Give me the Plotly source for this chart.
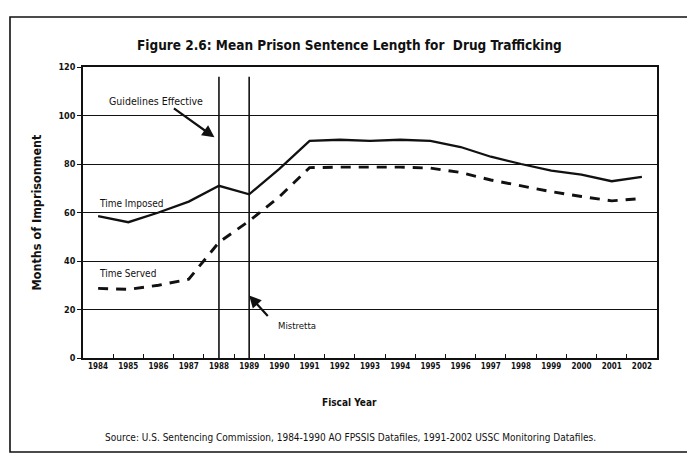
import plotly.graph_objects as go

# Fiscal years on the category axis
years = [str(y) for y in range(1984, 2003)]

# Mean sentence length in months
time_imposed = [58.5, 56, 60, 64.5, 71, 67.5, 78, 89.5, 90, 89.5, 90, 89.5,
                87, 83, 80, 77.3, 75.6, 72.9, 74.7]
time_served = [28.7, 28.3, 30, 32.5, 47.7, 56.5, 66.5, 78.5, 78.7, 78.8, 78.7, 78.3,
               76.5, 73.4, 71, 68.6, 66.6, 64.8, 65.8]

# Policy events marked with vertical reference lines
event_years = ["1988", "1989"]

y_ticks = [0, 20, 40, 60, 80, 100, 120]

NARROW = "Liberation Sans Narrow, DejaVu Sans Condensed, Arial Narrow, sans-serif"

fig = go.Figure()

fig.add_trace(go.Scatter(
    x=years, y=time_imposed, mode="lines", name="Time Imposed",
    line=dict(color="#111111", width=2.3),
))
fig.add_trace(go.Scatter(
    x=years, y=time_served, mode="lines", name="Time Served",
    line=dict(color="#111111", width=2.9, dash="10px,8px"),
))

# Vertical markers for Guidelines Effective and Mistretta
for ev in event_years:
    idx = years.index(ev)
    fig.add_shape(type="line", xref="x", yref="y", x0=idx, x1=idx, y0=0, y1=116,
                  line=dict(color="#111111", width=1.6))

# Frame around the whole figure
fig.add_shape(type="rect", xref="paper", yref="paper",
              x0=(10 - 83) / 574, x1=(700 - 83) / 574,
              y0=(358 - 452) / 291, y1=(358 - 17) / 291,
              line=dict(color="#111111", width=1.6), layer="below")

annotations = [
    dict(text="<b>Figure 2.6: Mean Prison Sentence Length for  Drug Trafficking</b>",
         xref="paper", yref="paper", x=(349 - 83) / 574, y=(358 - 45) / 291,
         xanchor="center", yanchor="middle", showarrow=False,
         font=dict(family=NARROW, size=13.5, color="#111111")),
    dict(text="<b>Fiscal Year</b>",
         xref="paper", yref="paper", x=(349 - 83) / 574, y=(358 - 402) / 291,
         xanchor="center", yanchor="middle", showarrow=False,
         font=dict(family=NARROW, size=10, color="#111111")),
    dict(text="Source: U.S. Sentencing Commission, 1984-1990 AO FPSSIS Datafiles, 1991-2002 USSC Monitoring Datafiles.",
         xref="paper", yref="paper", x=(350 - 83) / 574, y=(358 - 437) / 291,
         xanchor="center", yanchor="middle", showarrow=False,
         font=dict(family=NARROW, size=10, color="#111111")),
    dict(text="Guidelines Effective", xref="x", yref="y", x=0.29, y=106,
         xanchor="left", yanchor="middle", showarrow=False,
         font=dict(family=NARROW, size=10.5, color="#111111")),
    dict(text="Time Imposed", xref="x", yref="y", x=-0.04, y=63.7,
         xanchor="left", yanchor="middle", showarrow=False,
         font=dict(family=NARROW, size=10, color="#111111")),
    dict(text="Time Served", xref="x", yref="y", x=-0.04, y=35,
         xanchor="left", yanchor="middle", showarrow=False,
         font=dict(family=NARROW, size=10, color="#111111")),
    dict(text="Mistretta", xref="x", yref="y", x=5.89, y=13.5,
         xanchor="left", yanchor="middle", showarrow=False,
         font=dict(family=NARROW, size=9.5, color="#111111")),
    # arrows pointing at the two event lines
    dict(text="", xref="x", yref="y", x=3.85, y=91, ax=-42, ay=-30,
         showarrow=True, arrowhead=2, arrowsize=1.1, arrowwidth=2.2,
         arrowcolor="#111111", standoff=0),
    dict(text="", xref="x", yref="y", x=5.0, y=25.8, ax=20, ay=22,
         showarrow=True, arrowhead=2, arrowsize=1.1, arrowwidth=2.2,
         arrowcolor="#111111", standoff=0),
]

fig.update_layout(
    width=687, height=460,
    margin=dict(l=83, r=30, t=67, b=102),
    paper_bgcolor="white", plot_bgcolor="white",
    showlegend=False,
    annotations=annotations,
    xaxis=dict(
        type="category", range=[-0.5, 18.5], tickson="boundaries",
        ticks="inside", ticklen=4, tickcolor="#111111", tickwidth=1.2,
        showline=True, linecolor="#111111", linewidth=1.6, mirror=True,
        showgrid=False, zeroline=False,
        tickfont=dict(family=NARROW, size=8, color="#111111", weight="bold"),
    ),
    yaxis=dict(
        range=[0, 120], tickmode="array", tickvals=y_ticks,
        ticktext=[str(v) for v in y_ticks],
        ticks="outside", ticklen=4, tickcolor="#111111", tickwidth=1.2,
        showline=True, linecolor="#111111", linewidth=1.6, mirror=True,
        showgrid=True, gridcolor="#111111", gridwidth=1.4, zeroline=False,
        tickfont=dict(family=NARROW, size=9, color="#111111", weight="bold"),
        title=dict(text="<b>Months of Imprisonment</b>", standoff=14,
                   font=dict(family=NARROW, size=12.5, color="#111111")),
    ),
)

fig.write_html("out.html")
